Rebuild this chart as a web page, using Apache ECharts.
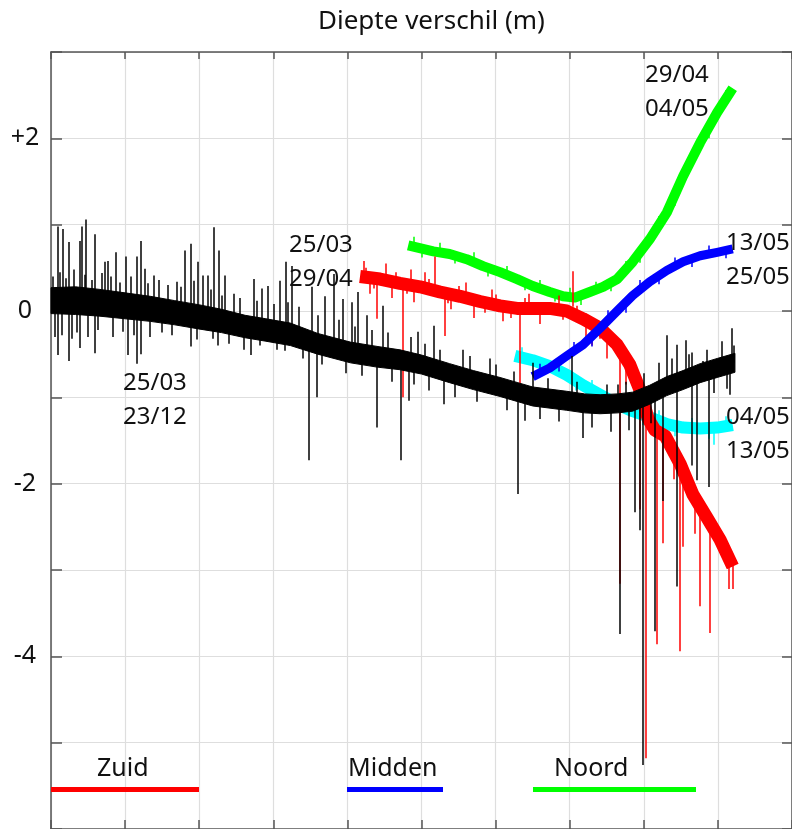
<!DOCTYPE html>
<html><head><meta charset="utf-8">
<script src="https://cdn.jsdelivr.net/npm/echarts@6/dist/echarts.min.js"></script>
<style>html,body{margin:0;padding:0;background:#fff}#c{width:792px;height:829px}</style>
</head><body><div id="c"></div>
<script>
// ---- data (x: relative time units, y: depth difference in m) ----
const yTickLabels = {"2": "+2", "0": "0", "-2": "-2", "-4": "-4"};

// Zuid (red)
const zuidX = [4.17,4.44,4.71,4.98,5.25,5.52,5.79,6.06,6.29,6.73,6.96,7.18,7.41,7.64,7.81,7.95,8.06,8.15,8.29,8.49,8.66,8.85,9.03,9.20];
const zuidY = [0.40,0.37,0.32,0.28,0.22,0.17,0.11,0.06,0.03,0.03,0.00,-0.09,-0.20,-0.39,-0.62,-0.92,-1.25,-1.38,-1.45,-1.77,-2.12,-2.39,-2.65,-2.96];
const zuidSpikes = [[4.40,0.38,-0.09],[4.75,0.32,-1.00],[5.32,0.21,-0.29],[6.33,0.03,-0.89],[7.21,-0.10,-0.35],
  [7.67,-0.45,-3.16],[7.95,-0.88,-2.30],[8.03,-1.10,-5.18],[8.18,-1.40,-3.86],[8.26,-1.42,-2.69],[8.49,-1.77,-3.94],
  [8.53,-1.85,-2.73],[8.69,-2.15,-2.58],[8.76,-2.25,-3.42],[8.89,-2.45,-3.73],[9.14,-2.85,-3.22],[9.20,-2.95,-3.22],
  [5.18,0.23,0.63],[7.04,0.05,0.46],
  [4.22,0.40,0.58],[4.30,0.39,0.20],[4.52,0.36,0.55],[4.60,0.35,0.15],[4.85,0.30,0.48],[4.90,0.30,0.10],[5.05,0.27,0.45],
  [5.40,0.19,0.02],[5.60,0.15,0.33],[5.70,0.13,-0.08],[5.95,0.08,0.25],[6.10,0.05,-0.12],[6.45,0.03,0.20],[6.60,0.03,-0.15],
  [6.85,0.02,0.18],[7.30,-0.14,-0.40],[7.50,-0.27,-0.55],[7.75,-0.55,-0.85],[8.40,-1.60,-1.95],
  [4.25,0.39,0.50],[4.35,0.38,0.26],[4.65,0.33,0.45],[4.80,0.31,0.20],[5.10,0.25,0.37],[5.35,0.20,0.09],[5.50,0.17,0.29],
  [5.85,0.10,-0.02],[6.00,0.07,0.19],[6.20,0.04,-0.08],[6.40,0.03,0.15],[6.90,0.01,-0.10],[7.10,-0.05,0.06],[7.40,-0.20,-0.32],
  [8.60,-2.00,-1.88],[8.80,-2.30,-2.42],[9.00,-2.60,-2.50]];

// Midden (blue)
const middenX = [6.50,6.73,6.96,7.18,7.41,7.64,7.85,8.08,8.31,8.53,8.76,8.99,9.20];
const middenY = [-0.76,-0.66,-0.52,-0.39,-0.20,0.00,0.18,0.34,0.47,0.57,0.64,0.68,0.72];
const middenSpikes = [[6.60,-0.72,-0.61],[6.85,-0.59,-0.70],[7.05,-0.47,-0.36],[7.30,-0.30,-0.41],[7.52,-0.10,0.01],
  [7.75,0.09,-0.02],[7.95,0.25,0.36],[8.20,0.41,0.31],[8.42,0.52,0.62],[8.65,0.60,0.51],[8.88,0.66,0.76],[9.10,0.70,0.61]];

// Noord (green)
const noordX = [4.82,5.16,5.38,5.61,5.83,6.06,6.29,6.50,6.73,6.91,7.07,7.27,7.45,7.64,7.85,8.08,8.31,8.53,8.76,8.99,9.20];
const noordY = [0.76,0.69,0.66,0.60,0.52,0.45,0.37,0.29,0.22,0.17,0.155,0.22,0.28,0.37,0.57,0.83,1.14,1.56,1.95,2.30,2.58];
const noordSpikes = [[4.90,0.74,0.86],[5.00,0.72,0.62],[5.25,0.68,0.79],[5.45,0.64,0.55],[5.70,0.57,0.68],[5.90,0.50,0.40],
  [6.15,0.42,0.52],[6.40,0.33,0.24],[6.60,0.26,0.36],[6.80,0.20,0.11],[7.00,0.16,0.27],[7.15,0.16,0.07],[7.35,0.24,0.34],
  [7.55,0.32,0.23],[7.75,0.46,0.58],[7.95,0.68,0.56],[8.20,0.98,1.10],[8.42,1.35,1.22],[8.65,1.75,1.86],[8.88,2.12,2.00],[9.10,2.45,2.56]];

// cyan
const cyanX = [6.26,6.50,6.73,6.96,7.18,7.41,7.64,7.85,8.08,8.31,8.53,8.76,8.99,9.20];
const cyanY = [-0.52,-0.57,-0.64,-0.74,-0.86,-0.97,-1.08,-1.16,-1.23,-1.31,-1.35,-1.36,-1.35,-1.32];
const cyanSpikes = [[6.35,-0.54,-0.42],[6.62,-0.60,-0.72],[6.85,-0.69,-0.57],[7.08,-0.80,-0.92],[7.30,-0.92,-0.80],
  [7.52,-1.03,-1.15],[7.75,-1.12,-1.00],[7.98,-1.20,-1.32],[8.20,-1.27,-1.15],[8.42,-1.33,-1.45],[8.65,-1.36,-1.24],
  [8.88,-1.36,-1.48],[9.10,-1.34,-1.22],[8.95,-1.36,-1.55]];

// black: dense core (lower / upper edge) plus spikes [x, from, to]
const blackX  = [0.00,0.33,0.66,1.00,1.34,1.67,2.01,2.30,2.62,2.90,3.23,3.60,4.04,4.40,4.71,5.00,5.38,5.70,6.06,6.30,6.50,6.96,7.20,7.41,7.65,7.85,8.08,8.31,8.53,8.76,8.99,9.23];
const blackLo = [-0.03,-0.04,-0.06,-0.09,-0.12,-0.16,-0.21,-0.25,-0.31,-0.35,-0.40,-0.50,-0.60,-0.65,-0.68,-0.73,-0.83,-0.91,-0.99,-1.05,-1.10,-1.15,-1.18,-1.19,-1.18,-1.16,-1.08,-0.98,-0.91,-0.83,-0.77,-0.71];
const blackHi = [0.27,0.28,0.25,0.21,0.17,0.12,0.07,0.02,-0.05,-0.09,-0.14,-0.26,-0.36,-0.41,-0.45,-0.51,-0.61,-0.69,-0.77,-0.83,-0.88,-0.93,-0.96,-0.97,-0.96,-0.94,-0.86,-0.76,-0.69,-0.61,-0.55,-0.49];
const blackSpikes = [
  [0.09,0.12,0.98],[0.16,0.12,0.95],[0.24,0.11,0.80],[0.39,0.10,0.81],[0.42,0.10,0.98],[0.47,0.10,1.06],[0.59,0.09,0.89],
  [0.73,0.08,0.57],[0.77,0.08,0.58],[0.88,0.07,0.68],[1.01,0.05,0.63],[1.16,0.04,0.63],[1.21,0.03,0.81],[1.26,0.03,0.49],
  [1.38,0.02,0.41],[1.70,-0.02,0.34],[1.81,-0.03,0.70],[1.88,-0.04,0.78],[1.98,-0.06,0.57],[2.05,-0.07,0.41],[2.11,-0.08,0.41],
  [2.20,-0.10,0.97],[2.27,-0.11,0.70],[2.35,-0.13,0.41],[2.47,-0.15,0.20],[2.73,-0.20,0.37],[2.85,-0.22,0.26],[2.93,-0.23,0.29],
  [3.09,-0.25,0.35],[3.17,-0.26,0.57],[3.25,-0.27,0.52],[3.52,-0.34,0.28],[3.70,-0.39,0.17],[3.81,-0.42,0.43],[3.94,-0.45,0.14],
  [4.06,-0.48,0.10],[4.14,-0.49,0.22],[4.26,-0.51,-0.05],[4.48,-0.53,0.06],[4.95,-0.62,-0.24],[5.16,-0.67,-0.17],
  [5.55,-0.76,-0.45],[5.92,-0.85,-0.55],[6.50,-0.99,-0.60],[7.03,-1.05,-0.52],[7.65,-1.06,-0.85],[8.31,-0.87,-0.28],
  [8.45,-0.83,-0.39],[8.56,-0.80,-0.34],[8.65,-0.77,-0.48],[8.80,-0.71,-0.58],[9.19,-0.61,-0.20],
  [0.09,0.12,-0.51],[0.24,0.11,-0.58],[0.39,0.10,-0.43],[0.59,0.09,-0.49],[1.03,0.05,-0.51],[1.16,0.04,-0.61],[1.21,0.03,-0.50],
  [1.88,-0.04,-0.41],[2.25,-0.11,-0.40],[2.69,-0.19,-0.51],[3.16,-0.26,-0.46],[3.48,-0.33,-1.73],[3.59,-0.36,-1.00],
  [4.39,-0.52,-1.35],[4.72,-0.56,-1.73],[4.83,-0.59,-1.04],[5.30,-0.70,-1.08],[6.30,-0.94,-2.12],[6.40,-0.96,-1.27],
  [7.17,-1.06,-1.47],[7.67,-1.06,-3.74],[7.88,-1.04,-2.33],[7.95,-1.02,-2.54],[7.99,-1.01,-5.26],[8.15,-0.94,-3.71],
  [8.25,-0.89,-2.20],[8.45,-0.83,-3.19],[8.65,-0.77,-1.79],[8.72,-0.74,-1.96],[8.87,-0.69,-2.04],[9.16,-0.62,-0.97],
  // shorter hairs around the core
  [0.03,0.12,0.40],[0.05,0.12,-0.30],[0.12,0.12,0.45],[0.14,0.12,-0.28],[0.20,0.12,0.38],[0.28,0.11,-0.32],[0.31,0.11,0.48],
  [0.35,0.11,-0.25],[0.45,0.10,0.42],[0.50,0.10,-0.30],[0.55,0.10,0.36],[0.63,0.09,-0.22],[0.68,0.09,0.44],[0.80,0.08,0.40],
  [0.84,0.08,-0.30],[0.93,0.07,0.33],[0.97,0.07,-0.24],[1.08,0.05,0.40],[1.12,0.05,-0.28],[1.30,0.03,0.32],[1.33,0.03,-0.30],
  [1.45,0.01,0.36],[1.50,0.01,-0.25],[1.58,0.00,0.30],[1.63,0.00,-0.28],[1.75,-0.02,0.28],[1.93,-0.05,0.35],[1.97,-0.05,-0.33],
  [2.15,-0.09,0.25],[2.18,-0.09,-0.32],[2.30,-0.12,0.18],[2.40,-0.14,-0.38],[2.55,-0.17,0.15],[2.60,-0.17,-0.45],[2.78,-0.21,0.12],
  [2.82,-0.21,-0.40],[3.00,-0.23,0.08],[3.05,-0.23,-0.45],[3.20,-0.27,0.10],[3.35,-0.30,0.05],[3.40,-0.30,-0.55],[3.60,-0.38,-0.05],
  [3.65,-0.38,-0.62],[3.88,-0.44,-0.10],[3.98,-0.47,-0.72],[4.10,-0.49,-0.18],[4.20,-0.50,-0.75],[4.33,-0.52,-0.22],[4.55,-0.54,-0.25],
  [4.60,-0.54,-0.82],[4.85,-0.59,-0.30],[4.90,-0.60,-0.85],[5.05,-0.63,-0.38],[5.10,-0.64,-0.92],[5.25,-0.68,-0.45],[5.45,-0.74,-1.00],
  [5.65,-0.79,-0.52],[5.75,-0.81,-1.05],[6.00,-0.87,-0.62],[6.15,-0.90,-1.15],[6.25,-0.93,-0.70],[6.60,-1.00,-1.25],[6.70,-1.01,-0.78],
  [6.85,-1.03,-1.28],[7.10,-1.06,-0.82],[7.30,-1.08,-1.35],[7.50,-1.08,-0.85],[7.55,-1.08,-1.40],[7.75,-1.06,-0.82],[7.80,-1.06,-1.38],
  [8.00,-1.00,-0.72],[8.10,-0.96,-1.30],[8.20,-0.92,-0.60],[8.38,-0.85,-0.55],[8.60,-0.78,-0.50],[8.85,-0.70,-0.45],[8.95,-0.67,-0.95],
  [9.05,-0.65,-0.35],[9.12,-0.63,-0.90],[9.22,-0.60,-0.40]];

// ---- chart ----
const zip = (xs, ys) => xs.map((x, i) => [x, ys[i]]);
const segs = (sp) => sp.map(s => ({coords: [[s[0], s[1]], [s[0], s[2]]]}));
const FONT = 'Noto Sans';
const AX = '#555';

function band(name, xs, ys, color, width, z) {
  return {name, type: 'line', data: zip(xs, ys), symbol: 'none', z, silent: true,
    lineStyle: {color, width, cap: 'butt', join: 'round'}, animation: false};
}
function spikes(name, sp, color, width, z) {
  return {name, type: 'lines', coordinateSystem: 'cartesian2d', data: segs(sp), z, silent: true,
    lineStyle: {color, width, opacity: 1}, animation: false};
}
function areaBand(name, xs, lo, hi, color, z) {
  return {name, type: 'custom', coordinateSystem: 'cartesian2d', z, silent: true, animation: false,
    data: [[xs[0], lo[0]]],
    renderItem: (params, api) => {
      const pts = [];
      for (let i = 0; i < xs.length; i++) pts.push(api.coord([xs[i], hi[i]]));
      for (let i = xs.length - 1; i >= 0; i--) pts.push(api.coord([xs[i], lo[i]]));
      return {type: 'polygon', shape: {points: pts}, style: {fill: color, stroke: color, lineWidth: 1}};
    }};
}

const chart = echarts.init(document.getElementById('c'), null, {renderer: 'canvas'});
const xCommon = {type: 'value', min: 0, max: 10, interval: 1, axisLabel: {show: false}};
const yCommon = {type: 'value', min: -6, max: 3, interval: 1};
const txt = (t, left, top, size) => ({type: 'text', left, top, z: 10,
  style: {text: t, font: size + 'px "Noto Sans"', lineHeight: 34, fill: '#111'}});
chart.setOption({
  animation: false,
  backgroundColor: '#fff',
  grid: {left: 51, top: 52, width: 741, height: 783, containLabel: false},
  xAxis: [
    Object.assign({}, xCommon, {position: 'bottom', axisLine: {onZero: false, lineStyle: {color: AX, width: 1.5}},
      axisTick: {inside: true, length: 9, lineStyle: {color: AX, width: 1.5}},
      splitLine: {show: true, lineStyle: {color: '#dedede', width: 1.2}}}),
    Object.assign({}, xCommon, {position: 'top', axisLine: {onZero: false, lineStyle: {color: AX, width: 1.5}},
      axisTick: {inside: true, length: 7, lineStyle: {color: AX, width: 1.5}}, splitLine: {show: false}})
  ],
  yAxis: [
    Object.assign({}, yCommon, {position: 'left', axisLine: {show: true, onZero: false, lineStyle: {color: AX, width: 1.5}},
      axisTick: {show: true, inside: true, length: 11, lineStyle: {color: AX, width: 1.5}},
      axisLabel: {show: true, margin: 26, align: 'center', fontFamily: FONT, fontSize: 25, color: '#111',
        formatter: v => (yTickLabels[String(v)] !== undefined ? yTickLabels[String(v)] : '')},
      splitLine: {show: true, lineStyle: {color: '#dedede', width: 1.2}}}),
    Object.assign({}, yCommon, {position: 'right', axisLine: {show: true, onZero: false, lineStyle: {color: AX, width: 1.5}},
      axisTick: {show: true, inside: true, length: 10, lineStyle: {color: AX, width: 1.5}},
      axisLabel: {show: false}, splitLine: {show: false}})
  ],
  series: [
    band('Noord', noordX, noordY, '#00ff00', 10, 2),
    spikes('Noord spikes', noordSpikes, '#00ff00', 1.5, 2),
    band('cyan', cyanX, cyanY, '#00ffff', 12, 3),
    spikes('cyan spikes', cyanSpikes, '#00ffff', 1.5, 3),
    band('Zuid', zuidX, zuidY, '#ff0000', 13, 4),
    spikes('Zuid spikes', zuidSpikes, '#ff0000', 1.5, 4),
    band('Midden', middenX, middenY, '#0000ff', 9, 5),
    spikes('Midden spikes', middenSpikes, '#0000ff', 1.5, 5),
    areaBand('black', blackX, blackLo, blackHi, '#000000', 6),
    spikes('black spikes', blackSpikes, '#000000', 1.5, 6)
  ],
  graphic: [
    {type: 'text', left: 318, top: 9, z: 10, style: {text: 'Diepte verschil (m)', font: '26px "Noto Sans"', fill: '#111'}},
    txt('25/03\n29/04', 289, 228, 24),
    txt('25/03\n23/12', 123, 366, 24),
    txt('29/04\n04/05', 645, 58, 24),
    txt('13/05\n25/05', 726, 226, 24),
    txt('04/05\n13/05', 726, 400, 24),
    {type: 'rect', shape: {x: 51, y: 787, width: 148, height: 5}, style: {fill: '#ff0000'}, z: 10},
    {type: 'rect', shape: {x: 347, y: 787, width: 96, height: 5}, style: {fill: '#0000ff'}, z: 10},
    {type: 'rect', shape: {x: 533, y: 787, width: 163, height: 5}, style: {fill: '#00ff00'}, z: 10},
    txt('Zuid', 97, 752, 25),
    txt('Midden', 348, 752, 25),
    txt('Noord', 554, 752, 25)
  ]
});
</script>
</body></html>
